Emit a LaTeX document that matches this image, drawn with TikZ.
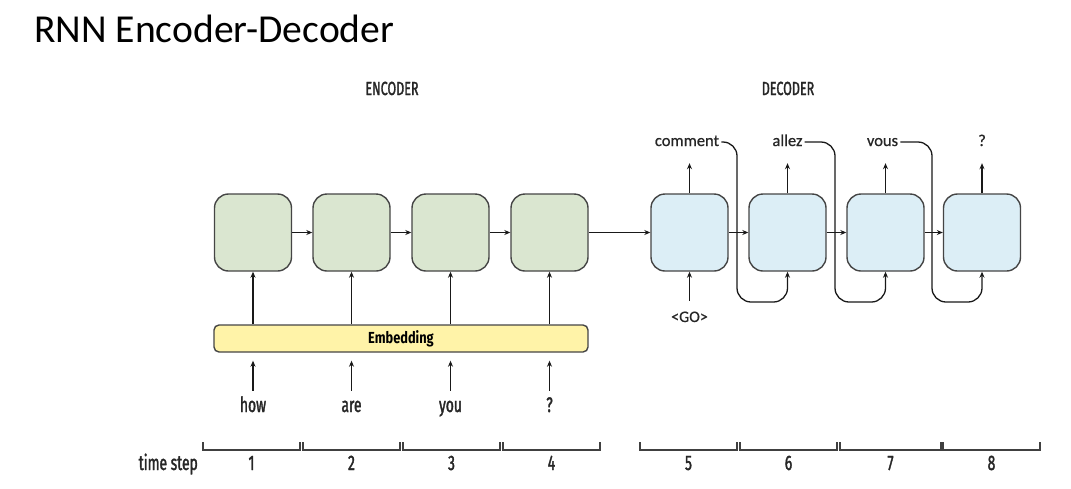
\documentclass[tikz,border=0pt]{standalone}
\usepackage{fontspec}
\setmainfont{Carlito}
\newfontfamily\cond[FakeStretch=0.66,FakeBold=1.6]{Fira Sans}
\newfontfamily\condb[FakeStretch=0.8]{Fira Sans}
\newfontfamily\outf[FakeBold=0.8]{Carlito}
\usetikzlibrary{arrows.meta}
\definecolor{encfill}{HTML}{DAE6D0}
\definecolor{decfill}{HTML}{DCEEF6}
\definecolor{embfill}{HTML}{FFF3A8}
\definecolor{edge}{HTML}{454545}
\tikzset{
  x=1pt, y=-1pt,
  cell/.style={draw=edge, line width=1.4pt, rounded corners=14pt, minimum width=77pt, minimum height=77pt, inner sep=0pt},
  enc/.style={cell, fill=encfill},
  dec/.style={cell, fill=decfill},
  arr/.style={draw=black!90, line width=1.3pt, -{Stealth[length=6pt,width=5pt]}},
  lbl/.style={font=\cond\fontsize{21}{23}\selectfont, inner sep=0pt, text height=13pt, text depth=3pt, text=black!85},
  outlbl/.style={font=\outf\fontsize{16.5}{18}\selectfont, inner sep=0pt, text height=11pt, text depth=3pt, text=black!85},
  tick/.style={draw=black!75, line width=1.3pt},
}
\begin{document}
\begin{tikzpicture}
\useasboundingbox (0,0) rectangle (1071,488);
\node[anchor=west, font=\fontsize{39.6}{44}\selectfont, inner sep=0pt] (title) at (34,29) {RNN Encoder-Decoder};
\node[lbl, font=\cond\fontsize{19}{21}\selectfont] (enclbl) at (392,90) {ENCODER};
\node[lbl, font=\cond\fontsize{19}{21}\selectfont] (declbl) at (788,90) {DECODER};
% encoder cells
\node[enc] (e1) at (253,232.5) {};
\node[enc] (e2) at (351.5,232.5) {};
\node[enc] (e3) at (450.5,232.5) {};
\node[enc] (e4) at (549.5,232.5) {};
% decoder cells
\node[dec] (d1) at (689.5,232.5) {};
\node[dec] (d2) at (787.5,232.5) {};
\node[dec] (d3) at (885.5,232.5) {};
\node[dec] (d4) at (982,232.5) {};
% embedding
\node[draw=edge, line width=1.4pt, fill=embfill, rounded corners=5pt, minimum width=374pt, minimum height=27pt, inner sep=0pt, font=\condb\bfseries\fontsize{16}{18}\selectfont] (emb) at (401,338.5) {Embedding};
% horizontal recurrences
\draw[arr] (e1) -- (e2);
\draw[arr] (e2) -- (e3);
\draw[arr] (e3) -- (e4);
\draw[arr] (e4) -- (d1);
\draw[arr] (d1) -- (d2);
\draw[arr] (d2) -- (d3);
\draw[arr] (d3) -- (d4);
% embedding to encoder
\foreach \i in {1,...,4} {
  \draw[arr] (emb.north -| e\i.south) -- (e\i.south);
}
% input words
\node[lbl] (w1) at (253,407) {how};
\node[lbl] (w2) at (351.5,407) {are};
\node[lbl] (w3) at (450.5,407) {you};
\node[lbl] (w4) at (549.5,407) {?};
\foreach \i in {1,...,4} {
  \draw[arr, shorten <=8pt, shorten >=8pt] (w\i.north) -- (emb.south -| w\i.north);
}
% decoder outputs
\node[outlbl] (o1) at (687,142) {comment};
\node[outlbl] (o2) at (787.5,142) {allez};
\node[outlbl] (o3) at (882.5,142) {vous};
\node[outlbl] (o4) at (982,142) {?};
\foreach \i in {1,...,4} {
  \draw[arr, shorten >=14pt] (d\i.north) -- (d\i.north |- o\i.south);
}
% GO
\node[outlbl, font=\outf\fontsize{16}{18}\selectfont] (go) at (689.5,318) {<GO>};
\draw[arr, shorten <=10pt] (go.north -| d1.south) -- (d1.south);
% feedback loops
\coordinate (f1) at (737,302);
\coordinate (f2) at (835,302);
\coordinate (f3) at (932,302);
\draw[arr, rounded corners=14pt, shorten <=2pt] (o1.east) -| (f1) -| (d2.south);
\draw[arr, rounded corners=14pt, shorten <=2pt] (o2.east) -| (f2) -| (d3.south);
\draw[arr, rounded corners=14pt, shorten <=2pt] (o3.east) -| (f3) -| (d4.south);
% time steps
\node[lbl, anchor=east] (ts) at (198,465) {time step};
\foreach \a/\b/\n in {203/300/1, 303/400/2, 403/500/3, 503/600/4, 640/737/5, 740/837/6, 840/941/7, 943/1040/8} {
  \draw[tick] (\a,442) -- (\a,450) -- (\b,450) -- (\b,442);
  \node[lbl] (n\n) at ({(\a+\b)/2},465) {\n};
}
\end{tikzpicture}
\end{document}
